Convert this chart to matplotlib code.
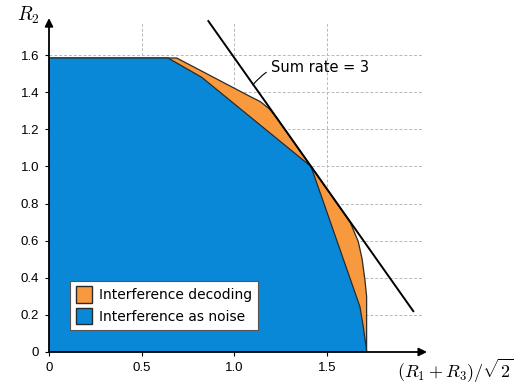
import matplotlib
matplotlib.use("Agg")
import matplotlib.pyplot as plt
from matplotlib.patches import Patch

plt.rcParams['mathtext.fontset'] = 'cm'

# Data
blue_x = [0, 0, 0.642, 0.824, 1.414, 1.678, 1.696, 1.711, 1.714]
blue_y = [0, 1.585, 1.585, 1.481, 1.0, 0.244, 0.136, 0.03, 0]

orange_x = [0, 0, 0.689, 1.09, 1.14, 1.19, 1.23, 1.414, 1.625, 1.669, 1.69, 1.705, 1.714, 1.714]
orange_y = [0, 1.585, 1.585, 1.375, 1.35, 1.31, 1.26, 1.0, 0.70, 0.595, 0.5, 0.388, 0.3, 0]

sum_x = [0.86, 1.966]
sum_y = [1.784, 0.220]

x_ticks = [0, 0.5, 1.0, 1.5]
x_ticklabels = ["0", "0.5", "1.0", "1.5"]
y_ticks = [0, 0.2, 0.4, 0.6, 0.8, 1.0, 1.2, 1.4, 1.6]
y_ticklabels = ["0", "0.2", "0.4", "0.6", "0.8", "1.0", "1.2", "1.4", "1.6"]

orange = "#f8993d"
blue = "#0a88d8"
edge = "#2a2a2a"

fig = plt.figure(figsize=(5.29, 3.85), dpi=100)
ax = fig.add_axes([49/529, 33/385, 2.05*185.3/529, 1.8*185.5/385])
ax.set_xlim(0, 2.05)
ax.set_ylim(0, 1.8)

# grid
for gx in x_ticks[1:]:
    ax.plot([gx, gx], [0, 1.78], color="#b8b8b8", lw=0.7, ls=(0, (3, 2)), zorder=0)
for gy in y_ticks[1:]:
    ax.plot([0, 2.02], [gy, gy], color="#b8b8b8", lw=0.7, ls=(0, (3, 2)), zorder=0)

ax.fill(orange_x, orange_y, facecolor=orange, edgecolor=edge, lw=0.9, zorder=2)
ax.fill(blue_x, blue_y, facecolor=blue, edgecolor=edge, lw=0.9, zorder=3)

ax.plot(sum_x, sum_y, color="black", lw=1.4, zorder=4)

ax.annotate("Sum rate = 3", xy=(1.1, 1.44), xytext=(1.20, 1.536),
            fontsize=10.5, family="DejaVu Sans", ha="left", va="center",
            arrowprops=dict(arrowstyle="-", color="black", lw=0.8,
                            connectionstyle="arc3,rad=0.35", shrinkA=2, shrinkB=0),
            zorder=5)

for s in ax.spines.values():
    s.set_visible(False)

# axes arrows
ax.annotate("", xy=(2.04, 0), xytext=(0, 0),
            arrowprops=dict(arrowstyle="-|>", color="black", lw=1.3, mutation_scale=12,
                            shrinkA=0, shrinkB=0), zorder=6, annotation_clip=False)
ax.annotate("", xy=(0, 1.80), xytext=(0, 0),
            arrowprops=dict(arrowstyle="-|>", color="black", lw=1.3, mutation_scale=12,
                            shrinkA=0, shrinkB=0), zorder=6, annotation_clip=False)

ax.set_xticks(x_ticks)
ax.set_xticklabels(x_ticklabels, fontsize=9.5, family="Liberation Sans")
ax.set_yticks(y_ticks)
ax.set_yticklabels(y_ticklabels, fontsize=9.5, family="Liberation Sans")
ax.tick_params(length=3, width=0.8, pad=4)

fig.text(455/529, 1 - 371/385, r"$(R_1+R_3)/\sqrt{2}$", fontsize=13, ha="center", va="center")
fig.text(28/529, 1 - 15/385, r"$R_2$", fontsize=14, ha="center", va="center")

handles = [Patch(facecolor=orange, edgecolor=edge, label="Interference decoding"),
           Patch(facecolor=blue, edgecolor=edge, label="Interference as noise")]
leg = ax.legend(handles=handles, loc="lower left", bbox_to_anchor=(21/379.9, 22/333.9),
                borderaxespad=0,
                prop={"family": "DejaVu Sans", "size": 10}, fancybox=False,
                framealpha=1, edgecolor="#555555", handlelength=1.2, handleheight=1.5,
                handletextpad=0.5, borderpad=0.4, labelspacing=0.3)
leg.get_frame().set_linewidth(0.8)
leg.set_zorder(7)

fig.savefig("out.png", dpi=100)
